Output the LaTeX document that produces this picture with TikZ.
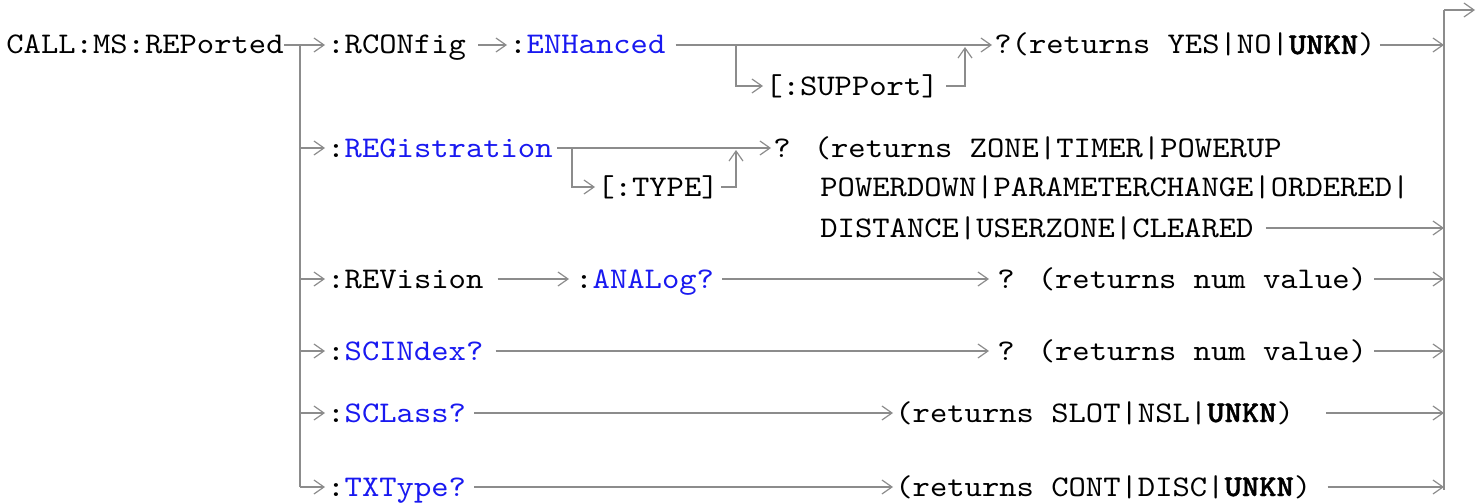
\documentclass[tikz,border=0pt]{standalone}
\usepackage{fontspec}
\newfontfamily\cmdfont{lmmono10-regular.otf}[FakeStretch=1.1, BoldFont=lmmonolt10-bold.otf]
\usepackage{tikz}
\usetikzlibrary{arrows.meta}
\definecolor{linegray}{RGB}{140,140,140}
\definecolor{cmdblue}{RGB}{25,25,240}
\NewDocumentCommand \kw{ m }{%
    \textcolor{cmdblue}{#1}%
}
\NewDocumentCommand \unkn{ }{%
    {\bfseries\addfontfeature{FakeBold=1.5}UNKN}%
}

\begin{document}
\begin{tikzpicture}[x=0.5pt, y=-0.5pt]
    \tikzstyle{txt}=[anchor=west, inner sep=0pt, text height=11pt, text depth=2pt, font=\cmdfont\fontsize{15}{18}\selectfont]
    \tikzstyle{wire}=[draw=linegray, line width=1pt]
    \tikzstyle{flow}=[wire, -{Straight Barb[length=5pt, width=7pt, line width=0.6pt]}, shorten >=1pt]
    \useasboundingbox (0,0) rectangle (1484,503);
    % commands and returns
    \draw (6,45) node[txt] (root) {CALL:MS:REPorted} ;
    \draw (327,45) node[txt] (rcfg) {:RCONfig} ;
    \draw (509,45) node[txt] (enh) {:\kw{ENHanced}} ;
    \draw (765,86) node[txt] (supp) {[:SUPPort]} ;
    \draw (994,45) node[txt] (yes) {?(returns YES|NO|\unkn)} ;
    \draw (327,148) node[txt] (reg) {:\kw{REGistration}} ;
    \draw (597,187) node[txt] (type) {[:TYPE]} ;
    \draw (773,148) node[txt] (zone) {? (returns ZONE|TIMER|POWERUP} ;
    \draw (820,187) node[txt] (pdown) {POWERDOWN|PARAMETERCHANGE|ORDERED|} ;
    \draw (820,228) node[txt] (dist) {DISTANCE|USERZONE|CLEARED} ;
    \draw (327,279) node[txt] (rev) {:REVision} ;
    \draw (575,279) node[txt] (ana) {:\kw{ANALog?}} ;
    \draw (997,279) node[txt] (anaret) {? (returns num value)} ;
    \draw (327,351) node[txt] (sci) {:\kw{SCINdex?}} ;
    \draw (997,351) node[txt] (sciret) {? (returns num value)} ;
    \draw (327,413) node[txt] (scl) {:\kw{SCLass?}} ;
    \draw (895,413) node[txt] (sclret) {(returns SLOT|NSL|\unkn)} ;
    \draw (327,487) node[txt] (txtype) {:\kw{TXType?}} ;
    \draw (895,487) node[txt] (txtret) {(returns CONT|DISC|\unkn)} ;
    % bends
    \coordinate (trunk) at (300,45);
    \coordinate (bar) at (1444,10);
    \coordinate (exit) at (1475,10);
    \coordinate (suppin) at (736,45);
    \coordinate (suppout) at (965,45);
    \coordinate (typein) at (572,148);
    \coordinate (typeout) at (736,148);
    % left trunk
    \draw[wire] (trunk) -- (trunk |- txtype.west);
    \draw[flow] (root.east) -- (rcfg.west);
    \foreach \n in {reg, rev, sci, scl, txtype}
        \draw[flow] (trunk |- \n.west) -- (\n.west);
    % rows
    \draw[flow, shorten <=6pt] (rcfg.east) -- (enh.west);
    \draw[flow, shorten <=5pt] (enh.east) -- (yes.west);
    \draw[flow] (suppin) |- (supp.west);
    \draw[flow, shorten <=3.5pt] (supp.east) -| (suppout);
    \draw[flow, shorten <=2pt] (reg.east) -- (zone.west);
    \draw[flow] (typein) |- (type.west);
    \draw[flow, shorten <=1pt] (type.east) -| (typeout);
    \draw[flow, shorten <=7pt, shorten >=3pt] (rev.east) -- (ana.west);
    \draw[flow, shorten <=4pt, shorten >=4pt] (ana.east) -- (anaret.west);
    \draw[flow, shorten <=6pt, shorten >=4pt] (sci.east) -- (sciret.west);
    \draw[flow, shorten <=4pt] (scl.east) -- (sclret.west);
    \draw[flow, shorten <=4pt] (txtype.east) -- (txtret.west);
    % right bar
    \draw[wire] (bar) -- ([yshift=-1.5pt]bar |- txtret.east);
    \draw[flow, shorten >=0pt] (bar) -- (exit);
    \foreach \n/\g in {yes/2pt, dist/6pt, anaret/3.5pt, sciret/3.5pt, sclret/16pt, txtret/8pt}
        \draw[flow, shorten >=0pt, shorten <=\g] (\n.east) -- (bar |- \n.east);
\end{tikzpicture}
\end{document}
